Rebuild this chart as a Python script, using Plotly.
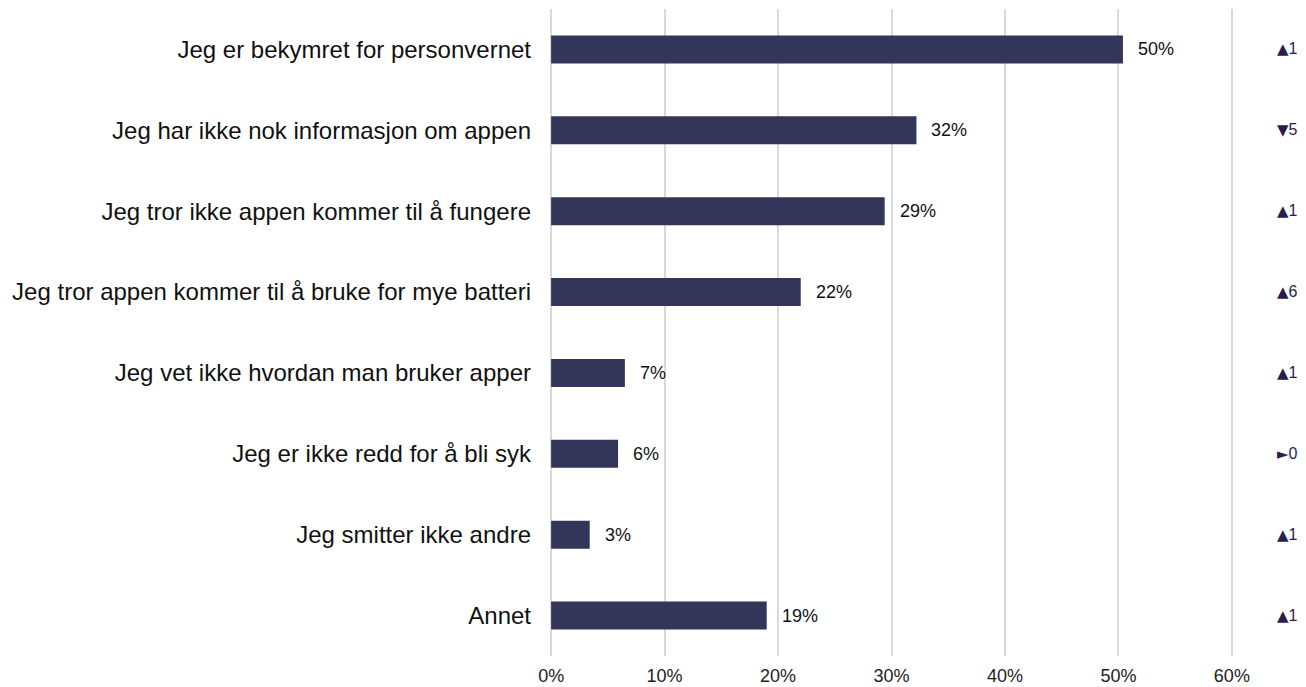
import plotly.graph_objects as go

categories = [
    "Jeg er bekymret for personvernet",
    "Jeg har ikke nok informasjon om appen",
    "Jeg tror ikke appen kommer til å fungere",
    "Jeg tror appen kommer til å bruke for mye batteri",
    "Jeg vet ikke hvordan man bruker apper",
    "Jeg er ikke redd for å bli syk",
    "Jeg smitter ikke andre",
    "Annet",
]
values = [0.504, 0.322, 0.294, 0.220, 0.065, 0.059, 0.034, 0.190]
value_labels = ["50%", "32%", "29%", "22%", "7%", "6%", "3%", "19%"]
change_labels = ["▲1", "▼5", "▲1", "▲6", "▲1", "►0", "▲1", "▲1"]
tick_vals = [0, 0.1, 0.2, 0.3, 0.4, 0.5, 0.6]
tick_text = ["0%", "10%", "20%", "30%", "40%", "50%", "60%"]

FONT = "Liberation Sans, Arial, sans-serif"
BAR = "#333559"
IND = "#2d1b4e"

fig = go.Figure()
fig.add_trace(go.Bar(
    x=values, y=categories, orientation="h",
    marker=dict(color=BAR, line=dict(width=0)),
    width=0.346, hoverinfo="skip",
))

annotations = []
for c, v, t in zip(categories, values, value_labels):
    annotations.append(dict(
        x=v, y=c, xref="x", yref="y", text=t, showarrow=False,
        xanchor="left", yanchor="middle", xshift=13,
        font=dict(family=FONT, size=18, color="#111111"),
    ))
for c, t in zip(categories, change_labels):
    sym, num = t[0], t[1:]
    annotations.append(dict(
        x=1.061, y=c, xref="paper", yref="y",
        text=f"<span style='font-family:DejaVu Sans;font-size:15px'>{sym}</span>{num}",
        showarrow=False, xanchor="left", yanchor="middle",
        font=dict(family=FONT, size=16, color=IND),
    ))

fig.update_layout(
    width=1306, height=687,
    margin=dict(l=550, r=73, t=9, b=31, pad=0),
    paper_bgcolor="white", plot_bgcolor="white",
    showlegend=False,
    annotations=annotations,
    font=dict(family=FONT, color="#111111"),
)
fig.update_xaxes(
    range=[-0.001, 0.601], tickvals=tick_vals, ticktext=tick_text,
    showgrid=True, gridcolor="#d9d9d9", gridwidth=2,
    zeroline=False, showline=False, ticks="",
    tickfont=dict(family=FONT, size=18, color="#222222"),
    ticklabelstandoff=7, fixedrange=True, automargin=False,
)
fig.update_yaxes(
    categoryorder="array", categoryarray=categories, autorange="reversed",
    showgrid=False, zeroline=False, showline=False, ticks="",
    tickfont=dict(family=FONT, size=24, color="#111111"),
    ticklabelstandoff=18, fixedrange=True, automargin=False,
)

fig.write_html(
    "out.html",
    config={"displayModeBar": False},
    post_script="document.body.style.margin='0';document.body.style.padding='0';document.body.style.overflow='hidden';",
)
